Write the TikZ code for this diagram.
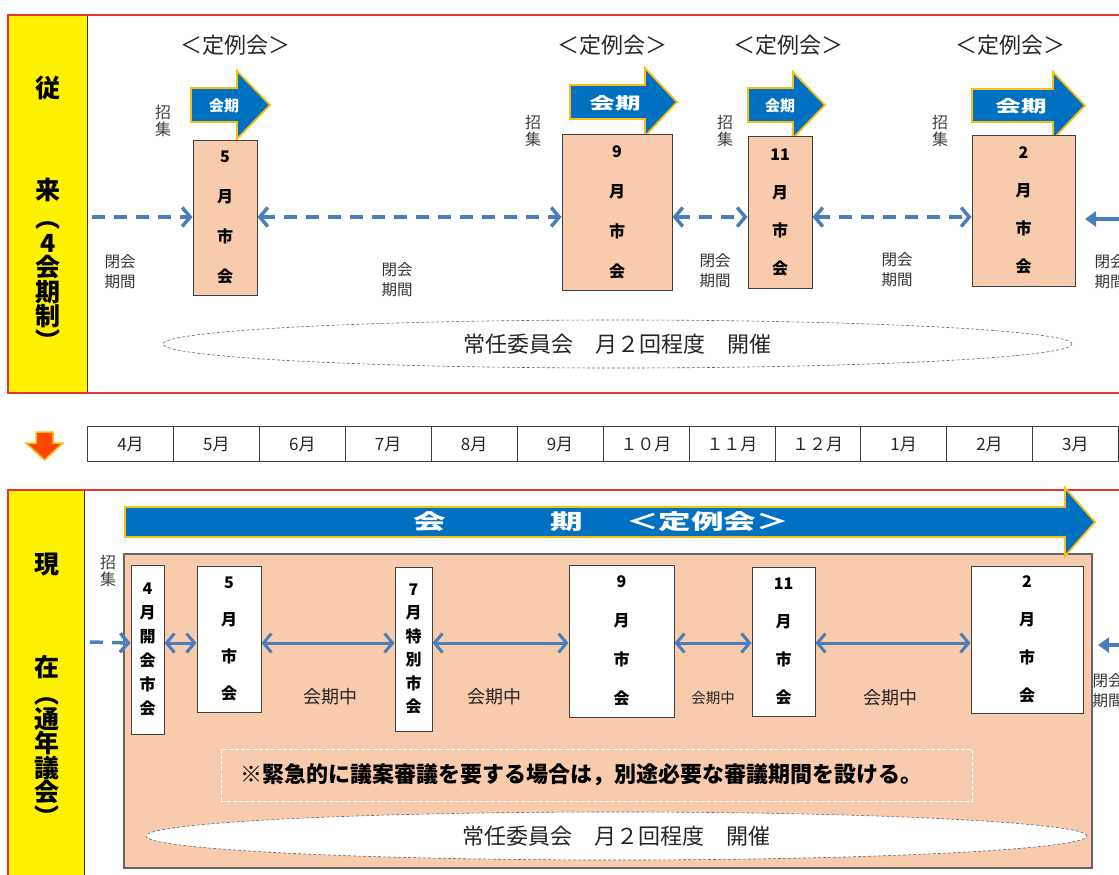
\documentclass[tikz,border=0pt]{standalone}
\usepackage{fontspec}
\setmainfont{Noto Sans CJK JP}
\newfontfamily\widefont[FakeStretch=1.55]{Noto Sans CJK JP}
\usetikzlibrary{arrows.meta,shapes.geometric}
\newcommand\fsz[2]{\fontsize{#1pt}{#2pt}\selectfont}
\definecolor{framered}{RGB}{228,52,52}
\definecolor{kaikiblue}{RGB}{0,112,192}
\definecolor{kaikigold}{RGB}{250,190,20}
\definecolor{linkblue}{RGB}{74,126,187}
\definecolor{peach}{RGB}{248,203,173}
\definecolor{downorange}{RGB}{255,70,0}
\tikzset{
  panel/.style={draw=framered, line width=2pt},
  bandtext/.style={font=\bfseries\fsz{25}{#1}, align=center, inner sep=0pt},
  bandtext/.default=24pt,
  teirei/.style={font=\fsz{22}{22}, text=black!85},
  kaiki/.style={fill=kaikiblue, draw=kaikigold, line width=1.8pt, line join=miter},
  kaiki_text/.style={text=white, font=\bfseries\fsz{15}{15}},
  kaiki_wide/.style={text=white, font=\widefont\bfseries\fsz{16.5}{16.5}},
  shoshu/.style={font=\fsz{16}{17}, align=center, text=black!75, inner sep=0pt},
  heikai/.style={font=\fsz{15.5}{20}, align=center, text=black!80, inner sep=0pt},
  tsuki/.style={rectangle, draw=black!75, fill=peach, line width=1pt, align=center,
    inner sep=0pt, font=\bfseries\fsz{16}{#1}},
  tsukiw/.style={tsuki=#1, fill=white},
  dashlink/.style={draw=linkblue, line width=3.5pt, dash pattern=on 13pt off 9pt,
    >={Straight Barb[length=8pt,width=19pt]}},
  link/.style={draw=linkblue, line width=3pt, >={Straight Barb[length=8pt,width=19pt]}},
  stublink/.style={draw=linkblue, line width=3.5pt, >={Triangle[length=11pt,width=15pt]}},
  ellip/.style={ellipse, draw=black!60, fill=white, dash pattern=on 3pt off 2pt,
    line width=0.6pt, inner sep=0pt, font=\fsz{22}{22}, text=black!85},
  cell/.style={rectangle, draw=black!75, minimum width=85.9pt, minimum height=35pt,
    inner sep=0pt, font=\fsz{17}{17}, text=black!85},
  chuu/.style={font=\fsz{#1}{#1}, text=black!85},
  note/.style={rectangle, draw=white, line width=1pt, dash pattern=on 4pt off 2pt,
    fill=peach, text width=713pt, inner xsep=19pt, minimum height=52pt, align=left,
    font=\bfseries\fsz{22}{22}}
}

\begin{document}
\begin{tikzpicture}[x=1pt,y=-1pt]
\useasboundingbox (0,0) rectangle (1119,875);

% upper panel
\fill[yellow] (9,16) rectangle (87,392);
\draw[black!80] (87,16) -- (87,392);
\draw[panel] (8,15) rectangle (1140,393);

\path (48,88) node(jurai_a) [bandtext] {従}
(48,190) node(jurai_b) [bandtext] {来}
(48,286) node(jurai_c) [bandtext=24.5pt] {︵\\4\\会\\期\\制\\︶};

\path (235,45) node(teirei_may) [teirei] {＜定例会＞}
(612,45) node(teirei_sep) [teirei] {＜定例会＞}
(788,45) node(teirei_nov) [teirei] {＜定例会＞}
(1010,45) node(teirei_feb) [teirei] {＜定例会＞};

\draw[kaiki] (191,88) -- (237,88) -- (237,71) -- (270,105) -- (237,139) -- (237,122) -- (191,122) -- cycle;
\draw[kaiki] (570,85) -- (645,85) -- (645,68) -- (677,102) -- (645,136) -- (645,119) -- (570,119) -- cycle;
\draw[kaiki] (748,88) -- (793,88) -- (793,72) -- (825,105) -- (793,138) -- (793,122) -- (748,122) -- cycle;
\draw[kaiki] (972,89) -- (1053,89) -- (1053,72) -- (1085,105.5) -- (1053,139) -- (1053,122) -- (972,122) -- cycle;

\path (224,106) node(kaiki_may) [kaiki_text] {会期}
(615,103) node(kaiki_sep) [kaiki_wide] {会期}
(780,106) node(kaiki_nov) [kaiki_text] {会期}
(1021,106) node(kaiki_feb) [kaiki_wide] {会期};

\path (163,121) node(shoshu_may) [shoshu] {招\\集}
(533,131) node(shoshu_sep) [shoshu] {招\\集}
(725,131) node(shoshu_nov) [shoshu] {招\\集}
(940,131) node(shoshu_feb) [shoshu] {招\\集};

\path (225,217.5) node(box_may) [tsuki=40pt, minimum width=64pt, minimum height=155pt] {5\\月\\市\\会}
(617,212) node(box_sep) [tsuki=40pt, minimum width=110pt, minimum height=156pt] {9\\月\\市\\会}
(780,212) node(box_nov) [tsuki=38pt, minimum width=64pt, minimum height=152pt] {11\\月\\市\\会}
(1023.5,210.5) node(box_feb) [tsuki=38pt, minimum width=103pt, minimum height=151pt] {2\\月\\市\\会};

\path (120,272) node(heikai_a) [heikai] {閉会\\期間}
(397,280) node(heikai_b) [heikai] {閉会\\期間}
(715,271) node(heikai_c) [heikai] {閉会\\期間}
(897,270) node(heikai_d) [heikai] {閉会\\期間}
(1110,272) node(heikai_e) [heikai] {閉会\\期間};

\coordinate (top_row) at (0,217);
\coordinate (top_left) at (92,217);
\coordinate (top_right) at (1125,219);
\coordinate (top_tip) at (1085,219);
\draw[dashlink,->] (top_left) -- (box_may.west |- top_row);
\draw[dashlink,<->] (box_may.east |- top_row) -- (box_sep.west |- top_row);
\draw[dashlink,<->] (box_sep.east |- top_row) -- (box_nov.west |- top_row);
\draw[dashlink,<->] (box_nov.east |- top_row) -- (box_feb.west |- top_row);
\draw[stublink,->] (top_right) -- (top_tip);

\path (617.5,344) node(jonin_top) [ellip, minimum width=909pt, minimum height=48pt] {常任委員会　月２回程度　開催};

% change arrow and months
\draw[fill=downorange, draw=kaikigold, line width=1.5pt, line join=miter]
  (36,432) -- (53,432) -- (53,443) -- (63,443) -- (44.5,460) -- (26,443) -- (36,443) -- cycle;

\path (130.5,444) node(m_apr) [cell] {4月}
(216.4,444) node(m_may) [cell] {5月}
(302.3,444) node(m_jun) [cell] {6月}
(388.2,444) node(m_jul) [cell] {7月}
(474.1,444) node(m_aug) [cell] {8月}
(560,444) node(m_sep) [cell] {9月}
(645.9,444) node(m_oct) [cell] {１０月}
(731.8,444) node(m_nov) [cell] {１１月}
(817.7,444) node(m_dec) [cell] {１２月}
(903.6,444) node(m_jan) [cell] {1月}
(989.5,444) node(m_feb) [cell] {2月}
(1075.4,444) node(m_mar) [cell] {3月};

% lower panel
\fill[yellow] (8,491) rectangle (84,880);
\draw[black!80] (84,491) -- (84,880);
\draw[panel] (8,490) rectangle (1140,900);

\path (47,565) node(genzai_a) [bandtext] {現}
(47,667) node(genzai_b) [bandtext] {在}
(47,762) node(genzai_c) [bandtext=24.5pt] {︵\\通\\年\\議\\会\\︶};

\draw[fill=peach, draw=black!60, line width=1.2pt] (124,554) rectangle (1092,868);
\draw[kaiki] (125,507) -- (1065,507) -- (1065,488) -- (1095,522) -- (1065,556) -- (1065,537) -- (125,537) -- cycle;
\path (601,522) node(kaiki_year) [text=white, font=\widefont\bfseries\fsz{21}{21}] {会\hspace{105pt}期\hspace{43pt}＜定例会＞};

\path (108,571) node(shoshu_apr) [shoshu] {招\\集};

\path (147.5,649.5) node(box_apr) [tsukiw=24pt, minimum width=33pt, minimum height=169pt] {4\\月\\開\\会\\市\\会}
(229,639) node(box_may2) [tsukiw=37pt, minimum width=64pt, minimum height=146pt] {5\\月\\市\\会}
(413.5,649) node(box_jul) [tsukiw=23.5pt, minimum width=37pt, minimum height=164pt] {7\\月\\特\\別\\市\\会}
(621.5,641) node(box_sep2) [tsukiw=39pt, minimum width=105pt, minimum height=152pt] {9\\月\\市\\会}
(783.5,641.5) node(box_nov2) [tsukiw=38pt, minimum width=63pt, minimum height=149pt] {11\\月\\市\\会}
(1027,639.5) node(box_feb2) [tsukiw=38pt, minimum width=112pt, minimum height=147pt] {2\\月\\市\\会};

\coordinate (bot_row) at (0,643);
\coordinate (bot_left) at (90,642);
\coordinate (bot_right) at (1125,645);
\coordinate (bot_tip) at (1098,645);
\draw[dashlink,->] (bot_left) -- (box_apr.west |- bot_row);
\draw[link,<->] (box_apr.east |- bot_row) -- (box_may2.west |- bot_row);
\draw[link,<->] (box_may2.east |- bot_row) -- (box_jul.west |- bot_row);
\draw[link,<->] (box_jul.east |- bot_row) -- (box_sep2.west |- bot_row);
\draw[link,<->] (box_sep2.east |- bot_row) -- (box_nov2.west |- bot_row);
\draw[link,<->] (box_nov2.east |- bot_row) -- (box_feb2.west |- bot_row);
\draw[stublink,->] (bot_right) -- (bot_tip);

\path (330,697) node(chuu_a) [chuu=18] {会期中}
(494,697) node(chuu_b) [chuu=18] {会期中}
(713,698) node(chuu_c) [chuu=14.5] {会期中}
(890,698) node(chuu_d) [chuu=18] {会期中};

\path (1108,691) node(heikai_f) [heikai] {閉会\\期間};

\path (596.5,775) node(note_box) [note] {※緊急的に議案審議を要する場合は，別途必要な審議期間を設ける。};

\path (616.5,836) node(jonin_bot) [ellip, minimum width=941pt, minimum height=48pt] {常任委員会　月２回程度　開催};
\end{tikzpicture}
\end{document}
